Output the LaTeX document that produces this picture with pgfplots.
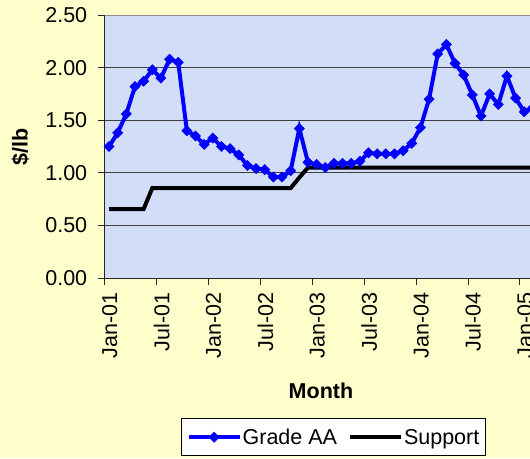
\documentclass[border=0pt]{standalone}
\usepackage{fontspec}
\setmainfont{Liberation Sans}
\usepackage{pgfplots}
\usepackage{pgfplotstable}
\pgfplotsset{compat=1.18}
\definecolor{bgyellow}{RGB}{255,255,204}
\definecolor{plotbg}{RGB}{210,221,247}
\definecolor{gradeblue}{RGB}{0,0,255}
\pgfplotstableread{
x aa sup
0.5 1.25 0.655
1.5 1.38 0.655
2.5 1.56 0.655
3.5 1.82 0.655
4.5 1.87 0.655
5.5 1.98 0.855
6.5 1.90 0.855
7.5 2.08 0.855
8.5 2.05 0.855
9.5 1.40 0.855
10.5 1.35 0.855
11.5 1.27 0.855
12.5 1.33 0.855
13.5 1.25 0.855
14.5 1.23 0.855
15.5 1.17 0.855
16.5 1.07 0.855
17.5 1.04 0.855
18.5 1.03 0.855
19.5 0.96 0.855
20.5 0.96 0.855
21.5 1.02 0.855
22.5 1.42 0.955
23.5 1.10 1.05
24.5 1.08 1.05
25.5 1.05 1.05
26.5 1.09 1.05
27.5 1.09 1.05
28.5 1.09 1.05
29.5 1.11 1.05
30.5 1.19 1.05
31.5 1.18 1.05
32.5 1.18 1.05
33.5 1.18 1.05
34.5 1.21 1.05
35.5 1.28 1.05
36.5 1.43 1.05
37.5 1.70 1.05
38.5 2.13 1.05
39.5 2.22 1.05
40.5 2.04 1.05
41.5 1.93 1.05
42.5 1.74 1.05
43.5 1.54 1.05
44.5 1.75 1.05
45.5 1.65 1.05
46.5 1.92 1.05
47.5 1.71 1.05
48.5 1.58 1.05
49.5 1.62 1.05
}\datatable
\begin{document}
\begin{tikzpicture}
\useasboundingbox (0pt,0pt) rectangle (530pt,458pt);
\fill[bgyellow] (0pt,0pt) rectangle (530pt,458pt);
\clip (0pt,0pt) rectangle (530pt,458pt);
\begin{axis}[
  at={(104.7pt,180pt)}, anchor=south west,
  scale only axis, width=432.5pt, height=263pt,
  xmin=0, xmax=50, ymin=0, ymax=2.5,
  clip=false,
  axis background/.style={fill=plotbg},
  axis x line*=bottom, axis y line*=left,
  axis line style={black!85, line width=1pt},
  tick align=outside, major tick length=7pt,
  tick style={black!85, line width=1pt},
  xtick={0,6,12,18,24,30,36,42,48},
  xticklabels={Jan-01,Jul-01,Jan-02,Jul-02,Jan-03,Jul-03,Jan-04,Jul-04,Jan-05},
  ytick={0,0.5,1,1.5,2,2.5},
  ymajorgrids,
  grid style={black!75, line width=0.8pt},
  tick label style={font=\fontsize{21.5}{25}\selectfont},
  yticklabel style={xshift=-7pt, /pgf/number format/.cd,fixed,fixed zerofill,precision=2,assume math mode=true},
  xticklabel style={xshift=5pt, yshift=-4pt, rotate=90, anchor=east},
  xlabel={Month},
  ylabel={\$/lb},
  label style={font=\fontsize{21.5}{25}\selectfont\bfseries},
  xlabel style={at={(axis description cs:0.5,-0.4285)}, anchor=center},
  ylabel style={at={(axis description cs:-0.1947,0.5)}, anchor=center},
  legend columns=2,
  legend style={at={(axis description cs:0.529,-0.5335)}, anchor=north,
    draw=black, line width=0.8pt, fill=white,
    inner xsep=5pt, inner ysep=8pt,
    nodes={inner xsep=1pt},
    font=\fontsize{21.5}{25}\selectfont,
    /tikz/every even column/.append style={column sep=10pt}},
  legend image code/.code={\draw[mark repeat=2,mark phase=2,#1] plot coordinates {(0pt,0pt) (25.5pt,0pt) (51pt,0pt)};},
]
\draw[black!45, line width=1pt] (rel axis cs:0,1) -- (rel axis cs:1,1);
\addplot[gradeblue, line width=4pt, mark=square*, mark size=3.6pt, mark options={rotate=45, line width=0.5pt}] table[x=x, y=aa] {\datatable};
\addlegendentry{Grade AA}
\addplot[black, line width=4pt, no marks] table[x=x, y=sup] {\datatable};
\addlegendentry{Support}
\end{axis}
\end{tikzpicture}
\end{document}
